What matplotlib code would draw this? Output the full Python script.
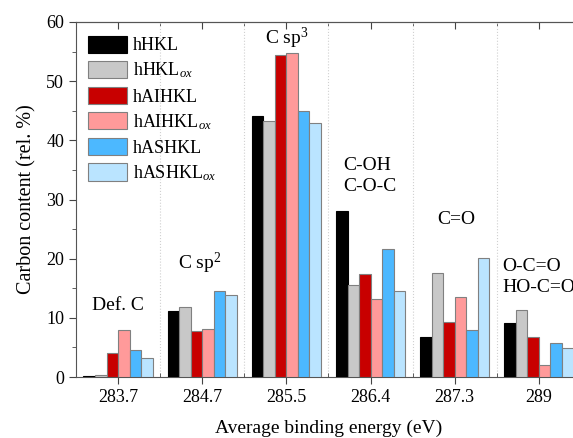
import matplotlib.pyplot as plt
import numpy as np
from matplotlib.ticker import MultipleLocator, FixedLocator, NullFormatter

plt.rcParams['font.family'] = ['Liberation Serif', 'DejaVu Serif']
plt.rcParams['mathtext.fontset'] = 'custom'
plt.rcParams['mathtext.rm'] = 'Liberation Serif'
plt.rcParams['mathtext.it'] = 'Liberation Serif:italic'

energies = ['283.7', '284.7', '285.5', '286.4', '287.3', '289']
samples = ['hHKL', r'hHKL$_{\mathit{ox}}$', 'hAIHKL', r'hAIHKL$_{\mathit{ox}}$',
           'hASHKL', r'hASHKL$_{\mathit{ox}}$']
hHKL = [0.2, 11.2, 44.1, 28.0, 6.8, 9.2]
hHKL_ox = [0.3, 11.8, 43.2, 15.5, 17.5, 11.3]
hAIHKL = [4.1, 7.7, 54.5, 17.4, 9.3, 6.7]
hAIHKL_ox = [7.9, 8.1, 54.8, 13.2, 13.5, 2.0]
hASHKL = [4.5, 14.5, 44.9, 21.7, 7.9, 5.8]
hASHKL_ox = [3.2, 13.8, 43.0, 14.6, 20.1, 4.9]
series = [hHKL, hHKL_ox, hAIHKL, hAIHKL_ox, hASHKL, hASHKL_ox]
colors = ['#000000', '#c8c8c8', '#c80000', '#ff9a9a', '#4cb8ff', '#bae4ff']
edges = ['#000000', '#808080', '#808080', '#808080', '#808080', '#808080']

fig = plt.figure(figsize=(5.73, 4.38), dpi=100)
ax = fig.add_axes([76/573, 61/438, 505/573, 355/438])

x = np.arange(len(energies))
w = 0.137
for i, (vals, c, e) in enumerate(zip(series, colors, edges)):
    ax.bar(x + (i - 2.5) * w, vals, w, color=c, edgecolor=e, linewidth=0.8,
           label=samples[i], zorder=3)

ax.set_xlim(-0.5, 5.5)
ax.set_ylim(0, 60)
ax.set_xticks(x)
ax.set_xticklabels(energies)
ax.xaxis.set_minor_locator(FixedLocator(x[:-1] + 0.5))
ax.yaxis.set_major_locator(MultipleLocator(10))
ax.yaxis.set_minor_locator(MultipleLocator(5))
ax.grid(axis='x', which='minor', linestyle=':', color='#d0d0d0', linewidth=0.8, zorder=0)

ax.tick_params(axis='both', which='major', labelsize=13, colors='#444444', labelcolor='black')
ax.tick_params(axis='y', which='major', direction='out', length=5)
ax.tick_params(axis='y', which='minor', direction='out', length=3, colors='#444444')
ax.tick_params(axis='x', which='major', direction='out', length=5)
ax.tick_params(axis='x', which='minor', direction='in', length=3, colors='#444444')
for s in ax.spines.values():
    s.set_color('#555555')

# top ticks point inward
top = ax.secondary_xaxis('top')
top.set_xticks(x)
top.xaxis.set_minor_locator(FixedLocator(x[:-1] + 0.5))
top.xaxis.set_major_formatter(NullFormatter())
top.tick_params(which='major', direction='in', length=5, colors='#444444')
top.tick_params(which='minor', direction='in', length=3, colors='#444444')
top.spines['top'].set_color('#555555')

ax.set_ylabel('Carbon content (rel. %)', fontsize=14.5, labelpad=7)
ax.set_xlabel('Average binding energy (eV)', fontsize=14, labelpad=10)

fs = 14
ax.text(0, 12.0, 'Def. C', ha='center', va='center', fontsize=fs)
ax.text(0.97, 19.2, r'C sp$^2$', ha='center', va='center', fontsize=fs)
ax.text(2.0, 57.3, r'C sp$^3$', ha='center', va='center', fontsize=fs)
ax.text(2.68, 34.0, 'C-OH\nC-O-C', ha='left', va='center', fontsize=fs, linespacing=1.3)
ax.text(4.02, 26.7, 'C=O', ha='center', va='center', fontsize=fs)
ax.text(4.57, 16.9, 'O-C=O\nHO-C=O', ha='left', va='center', fontsize=fs, linespacing=1.3)

ax.legend(loc='upper left', bbox_to_anchor=(8/505, 1 - 10/355), frameon=False, fontsize=13,
          handlelength=2.2, handleheight=1.1, labelspacing=0.35, handletextpad=0.3,
          borderaxespad=0.0, borderpad=0.2)

fig.savefig('out.png', dpi=100)
